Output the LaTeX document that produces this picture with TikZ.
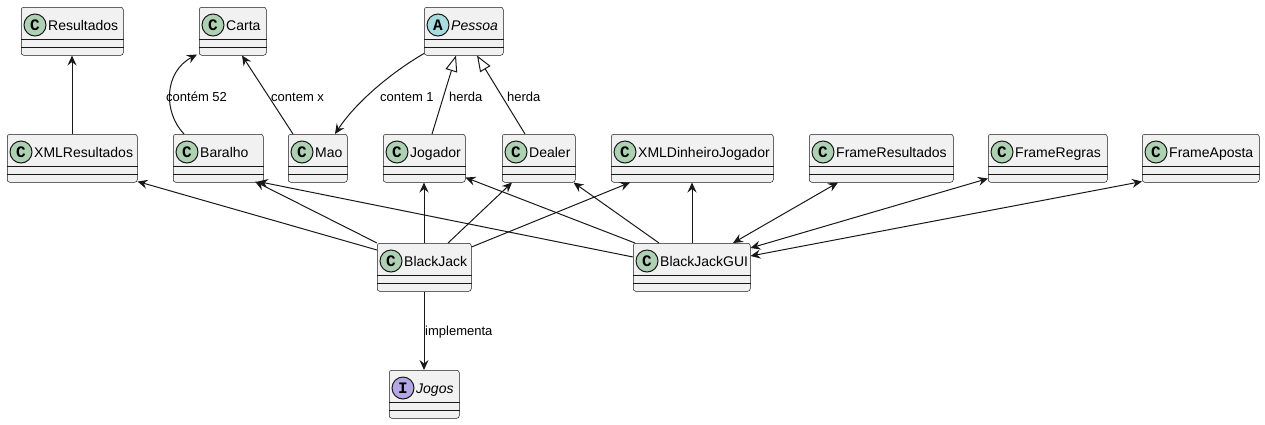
\documentclass[tikz,border=0pt]{standalone}
\usepackage{fontspec}
\setmainfont{Liberation Sans}
\newfontfamily\letterfont{Liberation Mono}
\usetikzlibrary{arrows.meta,calc}
\definecolor{lc}{HTML}{181818}
\definecolor{boxfill}{HTML}{F1F1F1}
\definecolor{cls}{HTML}{ADD1B2}
\definecolor{abst}{HTML}{A9DCDF}
\definecolor{intf}{HTML}{B4A7E5}
\tikzset{
  umlbox/.style={draw=lc, fill=boxfill, line width=0.5pt, rounded corners=2.5pt, minimum height=48pt, inner sep=0pt},
  sepline/.style={draw=lc, line width=0.5pt},
  circ/.style={circle, draw=lc, line width=1pt, minimum size=22pt, inner sep=0pt, font=\letterfont\bfseries\fontsize{16}{16}\selectfont},
  boxtext/.style={anchor=base west, inner sep=0pt, font=\fontsize{14}{16}\selectfont},
  elabel/.style={anchor=west, inner sep=0pt, font=\fontsize{13}{15}\selectfont},
  arr/.style={draw=lc, line width=1pt, -{Stealth[length=10pt,width=9pt,inset=3.5pt]}},
  darr/.style={draw=lc, line width=1pt, {Stealth[length=10pt,width=9pt,inset=3.5pt]}-{Stealth[length=10pt,width=9pt,inset=3.5pt]}},
  inh/.style={draw=lc, line width=1pt, -{Triangle[open,length=16pt,width=12pt]}},
}
\newcommand\UmlBox[7]{%
  \node[umlbox, minimum width={#3-#2}, anchor=north west] (#1) at (#2,#4) {};
  \draw[sepline] ([yshift=-32pt]#1.north west) -- ([yshift=-32pt]#1.north east);
  \draw[sepline] ([yshift=-40pt]#1.north west) -- ([yshift=-40pt]#1.north east);
  \node[circ, fill=#6] at ([xshift=14pt,yshift=-18pt]#1.north west) {#5};
  \node[boxtext] at ([xshift=27pt,yshift=-23pt]#1.north west) {#7};
}
\begin{document}
\begin{tikzpicture}[x=1pt,y=-1pt]
\useasboundingbox (0,0) rectangle (1265,424);
% row 1
\UmlBox{Resultados}{21}{123}{7}{C}{cls}{Resultados}
\UmlBox{Carta}{199}{266}{7}{C}{cls}{Carta}
\UmlBox{Pessoa}{424}{503}{7}{A}{abst}{\itshape Pessoa}
% row 2
\UmlBox{XMLResultados}{7}{137}{134}{C}{cls}{XMLResultados}
\UmlBox{Baralho}{173}{263}{134}{C}{cls}{Baralho}
\UmlBox{Mao}{288}{347}{134}{C}{cls}{Mao}
\UmlBox{Jogador}{383}{465}{134}{C}{cls}{Jogador}
\UmlBox{Dealer}{502}{575}{134}{C}{cls}{Dealer}
\UmlBox{XMLDJ}{611}{773}{134}{C}{cls}{XMLDinheiroJogador}
\UmlBox{FrameResultados}{809}{953}{134}{C}{cls}{FrameResultados}
\UmlBox{FrameRegras}{988}{1107}{134}{C}{cls}{FrameRegras}
\UmlBox{FrameAposta}{1142}{1259}{134}{C}{cls}{FrameAposta}
% row 3
\UmlBox{BlackJack}{377}{471}{243}{C}{cls}{BlackJack}
\UmlBox{BlackJackGUI}{633}{750}{243}{C}{cls}{BlackJackGUI}
% row 4
\UmlBox{Jogos}{389}{459}{370}{I}{intf}{\itshape Jogos}

% upper connectors
\draw[arr] ([xshift=65pt]XMLResultados.north west) -- ([xshift=51pt]Resultados.south west);
\draw[arr] ([xshift=11pt]Baralho.north west) .. controls (163,112) and (164,72) .. ([xshift=-2pt,yshift=1pt]Carta.south west);
\node[elabel] (l1) at (166,97) {contém 52};
\draw[arr] ([xshift=5pt]Mao.north west) -- ([xshift=43pt]Carta.south west);
\node[elabel] (l2) at (271,97) {contem x};
\draw[arr] ([yshift=2pt]Pessoa.south west) .. controls (392,72) and (356,102) .. ([xshift=47pt]Mao.north west);
\node[elabel] (l3) at (380,97) {contem 1};
\draw[inh] ([xshift=49pt]Jogador.north west) -- ([xshift=32pt]Pessoa.south west);
\node[elabel] (l4) at (449,97) {herda};
\draw[inh] ([xshift=23pt]Dealer.north west) -- ([xshift=53pt]Pessoa.south west);
\node[elabel] (l5) at (507,97) {herda};

% BlackJack connectors
\draw[arr] ([yshift=-7pt]BlackJack.north west) -- ([yshift=1pt]XMLResultados.south east);
\draw[arr] (BlackJack.north west) -- ([xshift=82pt,yshift=1pt]Baralho.south west);
\draw[arr] ([xshift=47pt]BlackJack.north west) -- ([xshift=41pt]Jogador.south west);
\draw[arr] ([xshift=71pt]BlackJack.north west) -- ([xshift=10pt]Dealer.south west);
\draw[arr] ([yshift=-4pt]BlackJack.north east) -- ([xshift=19pt]XMLDJ.south west);
\draw[arr] ([xshift=47pt]BlackJack.south west) -- ([xshift=35pt]Jogos.north west);
\node[elabel] (l6) at (425,332) {implementa};

% BlackJackGUI connectors
\draw[arr] ([yshift=-14pt]BlackJackGUI.north west) -- ([xshift=85pt,yshift=1pt]Baralho.south west);
\draw[arr] ([xshift=2pt]BlackJackGUI.north west) -- ([yshift=5pt]Jogador.south east);
\draw[arr] ([xshift=26pt]BlackJackGUI.north west) -- ([xshift=-2pt]Dealer.south east);
\draw[arr] ([xshift=59pt]BlackJackGUI.north west) -- ([xshift=81pt]XMLDJ.south west);
\draw[darr] ([xshift=100pt]BlackJackGUI.north west) -- ([xshift=29pt]FrameResultados.south west);
\draw[darr] ([yshift=-5pt]BlackJackGUI.north east) -- ([yshift=4pt]FrameRegras.south west);
\draw[darr] ([yshift=-13pt]BlackJackGUI.north east) -- ([yshift=1pt]FrameAposta.south west);
\end{tikzpicture}
\end{document}
